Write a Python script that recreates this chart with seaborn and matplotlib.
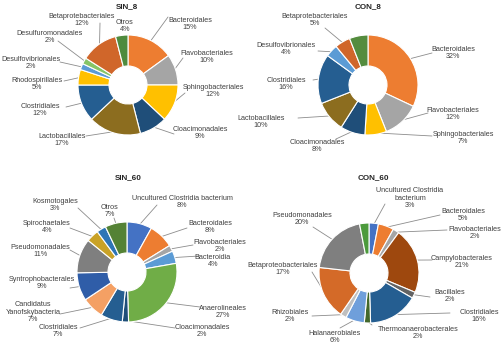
import matplotlib
matplotlib.use("Agg")
import matplotlib.pyplot as plt
import seaborn as sns
import numpy as np

sns.set_theme(style="white")
plt.rcParams['font.family'] = ['Liberation Sans', 'DejaVu Sans']

# ---------------- data ----------------
sin8_labels = ["Bacteroidales", "Flavobacteriales", "Sphingobacteriales", "Cloacimonadales",
               "Lactobacillales", "Clostridiales", "Rhodospirillales", "Desulfovibrionales",
               "Desulfuromonadales", "Betaprotebacteriales", "Otros"]
sin8_values = [15, 10, 12, 9, 17, 12, 5, 2, 2, 12, 4]

con8_labels = ["Bacteroidales", "Flavobacteriales", "Sphingobacteriales", "Cloacimonadales",
               "Lactobacillales", "Clostridiales", "Desulfovibrionales", "Betaprotebacteriales", ""]
con8_values = [32, 12, 7, 8, 10, 16, 4, 5, 6]

sin60_labels = ["Uncultured Clostridia bacterium", "Bacteroidales", "Flavobacteriales", "Bacteroidia",
                "Anaerolineales", "Cloacimonadales", "Clostridiales", "Candidatus\nYanofskybacteria",
                "Syntrophobacterales", "Pseudomonadales", "Spirochaetales", "Kosmotogales", "Otros"]
sin60_values = [8, 8, 2, 4, 27, 2, 7, 7, 9, 11, 4, 3, 7]

con60_labels = ["Uncultured Clostridia\nbacterium", "Bacteroidales", "Flavobacteriales", "Campylobacterales",
                "Bacillales", "Clostridiales", "Thermoanaerobacterales", "Halanaerobiales", "Rhizobiales",
                "Betaproteobacteriales", "Pseudomonadales", ""]
con60_values = [3, 5, 2, 21, 2, 16, 2, 6, 2, 17, 20, 3]

titles = ["SIN_8", "CON_8", "SIN_60", "CON_60"]

# ---------------- styles / layout (image pixel coordinates) ----------------
sin8_colors = ["#ED7D31", "#A5A5A5", "#FFC000", "#1F4E79", "#8C6D1F", "#255E91", "#FFC000",
               "#5B9BD5", "#86C466", "#D0662A", "#4E8B3E"]
con8_colors = ["#ED7D31", "#A5A5A5", "#FFC000", "#1F4E79", "#8C6D1F", "#255E91", "#5B9BD5",
               "#D0662A", "#548C3E"]
sin60_colors = ["#4472C4", "#ED7D31", "#A5A5A5", "#5B9BD5", "#70AD47", "#1F4E79", "#255E91",
                "#F4A064", "#2F5DA8", "#7F7F7F", "#C9A227", "#2E75B6", "#548235"]
con60_colors = ["#4472C4", "#ED7D31", "#A5A5A5", "#9E480E", "#636363", "#255E91", "#43682B",
                "#6F9FDB", "#BFBFBF", "#D46A28", "#7F7F7F", "#4C9A3C"]

sin8_text = [(190, 24), (207, 57), (213, 91), (200, 133), (62, 140), (40, 110), (37, 84),
             (31, 63), (50, 37), (82, 20), (125, 26)]
sin8_anchor = [(168, 17), (183, 58), (185, 93), (174, 134), (86, 136), (66, 107), (64, 81),
               (60, 62), (58, 41), (100, 23), None]

con8_text = [(453, 53), (453, 114), (463, 138), (317, 146), (261, 122), (286, 84), (286, 49),
             (315, 20), None]
con8_anchor = [(432, 53), (428, 113), (432, 136), (336, 139), (298, 118), (313, 80), (318, 51),
               (325, 28), None]

sin60_text = [(182, 202), (210, 227), (220, 246), (213, 261), (223, 312), (202, 331), (58, 331),
              (33, 312), (42, 283), (40, 251), (47, 227), (55, 205), (110, 211)]
sin60_anchor = [(157, 205), (187, 228), (193, 245), (199, 256), (200, 307), (175, 328), (80, 328),
                (60, 314), (70, 288), (70, 250), (70, 228), (78, 208), (114, 218)]

con60_text = [(410, 198), (463, 215), (475, 233), (462, 262), (450, 296), (479, 316), (418, 333),
              (335, 337), (290, 316), (283, 269), (302, 219), None]
con60_anchor = [(385, 204), (440, 215), (447, 230), (432, 260), (430, 297), (450, 313), (372, 325),
                (340, 328), (312, 316), (312, 272), (313, 227), None]

panels = [
    dict(title=titles[0], tpos=(127, 7), center=(128, 85), labels=sin8_labels, values=sin8_values,
         colors=sin8_colors, text=sin8_text, anchor=sin8_anchor),
    dict(title=titles[1], tpos=(368, 7), center=(368, 85), labels=con8_labels, values=con8_values,
         colors=con8_colors, text=con8_text, anchor=con8_anchor),
    dict(title=titles[2], tpos=(128, 178), center=(127, 272), labels=sin60_labels, values=sin60_values,
         colors=sin60_colors, text=sin60_text, anchor=sin60_anchor),
    dict(title=titles[3], tpos=(373, 178), center=(369, 273), labels=con60_labels, values=con60_values,
         colors=con60_colors, text=con60_text, anchor=con60_anchor),
]

W, H = 501, 349
R = 50
fig = plt.figure(figsize=(W / 100, H / 100), dpi=100)
fig.patch.set_facecolor("white")
ax = fig.add_axes([0, 0, 1, 1])

TXT = "#404040"
LINE = "#8C8C8C"

for p in panels:
    cx, cy = p["center"]
    center = (cx, H - cy)
    wedges, _ = ax.pie(p["values"], colors=p["colors"], startangle=90, counterclock=False,
                       center=center, radius=R, frame=True,
                       wedgeprops=dict(width=R * 0.62, edgecolor="white", linewidth=0.8))
    ax.text(p["tpos"][0], H - p["tpos"][1], p["title"], ha="center", va="center",
            fontsize=5.8, fontweight="bold", color="#262626")
    for w, name, val, tp, an in zip(wedges, p["labels"], p["values"], p["text"], p["anchor"]):
        if tp is None or name == "":
            continue
        ax.text(tp[0], H - tp[1], f"{name}\n{val}%", ha="center", va="center",
                fontsize=5.2, color=TXT, linespacing=1.15)
        if an is not None:
            mid = np.deg2rad((w.theta1 + w.theta2) / 2)
            ex = center[0] + R * 0.97 * np.cos(mid)
            ey = center[1] + R * 0.97 * np.sin(mid)
            ax.plot([an[0], ex], [H - an[1], ey], color=LINE, lw=0.6, zorder=0.5)

ax.set_xlim(0, W)
ax.set_ylim(0, H)
ax.set_aspect("auto")
ax.axis("off")

fig.savefig("out.png", dpi=100, facecolor="white")
